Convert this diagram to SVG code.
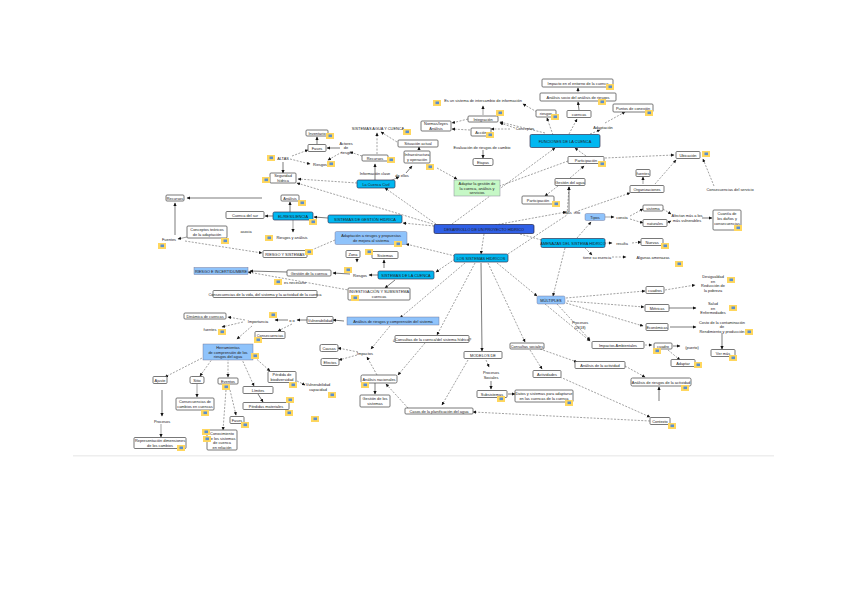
<svg xmlns="http://www.w3.org/2000/svg" xmlns:xlink="http://www.w3.org/1999/xlink" width="848" height="600" viewBox="0 0 848 600">
<style>
text{font-family:"Liberation Sans",Arial,sans-serif;font-size:3.9px;fill:#222;text-anchor:middle}
.b{fill:#fff;stroke:#555;stroke-width:.8}
.l{fill:none;stroke:none}
.c{fill:#00b7f1;stroke:#335;stroke-width:.7}
.k{fill:#2f5fe6;stroke:#224;stroke-width:.7}
.h{fill:#8fc3fb;stroke:#668;stroke-width:.4}
.g{fill:#c6f8c6;stroke:#889;stroke-width:.5}
#e path{fill:none;stroke:#444;stroke-width:.5;marker-end:url(#a)}
#e .d{stroke-dasharray:2 1.4}
#e .s{stroke-width:.7}
</style>
<defs>
<marker id="a" markerWidth="4" markerHeight="4" refX="3" refY="2" orient="auto" markerUnits="userSpaceOnUse"><path d="M0 .4L3.4 2L0 3.6z" fill="#111"/></marker>
<g id="i"><rect width="8" height="6" fill="#ffd75e"/><rect x="2.5" y="1.5" width="3.5" height="2.6" fill="#5a8fd0"/></g>
</defs>
<rect width="848" height="600" fill="#fff"/>
<rect x="73" y="455" width="701" height="1.5" fill="#eee"/>
<g id="e">
<path class="d" d="M484 234L481 254"/><path class="d" d="M452 224L555 148"/><path class="d" d="M436 225L297 183"/><path class="d" d="M436 224L385 188"/><path class="d" d="M434 226L403 223"/><path class="d" d="M520 234L545 241"/><path class="d" d="M495 225L566 212"/><path class="d" d="M575 212L630 193"/>
<path class="d" d="M508 254L567 215L569 187"/><path class="d" d="M455 256L406 244"/><path class="d" d="M455 259L436 272"/><path class="d" d="M465 263L400 318"/><path class="d" d="M475 263L437 335"/><path class="s" d="M481 263L482 351"/><path class="d" d="M488 263L525 342"/><path class="d" d="M497 263L537 296"/>
<path class="d" d="M565 248L553 296"/><path class="d" d="M577 238L591 222"/><path class="d" d="M594 243L612 243"/><path class="d" d="M632 243L641 242"/><path class="d" d="M585 248L592 255"/><path class="d" d="M612 257L626 257"/><path d="M605 217L614 217"/><path class="d" d="M630 216L643 209"/><path class="d" d="M630 219L643 223"/><path class="d" d="M663 209L671 214"/><path class="d" d="M667 223L671 221"/><path class="s" d="M702 218L712 218"/>
<path class="d" d="M553 135L547 118"/><path class="d" d="M569 134L577 119"/><path class="d" d="M590 134L600 130"/><path class="d" d="M605 123L625 112"/><path class="s" d="M579 110L578 102"/><path class="s" d="M578 92L578 88"/><path class="d" d="M537 112L523 104"/><path class="d" d="M545 133L500 122"/><path class="d" d="M515 128L500 123"/><path class="d" d="M470 130L452 129"/><path class="d" d="M510 129L491 129"/><path d="M483 115L483 106"/><path class="d" d="M468 119L452 123"/><path class="s" d="M483 150L483 158"/><path class="d" d="M586 156L575 148"/><path class="d" d="M570 178L584 166"/><path class="s" d="M569 212L569 187"/><path class="d" d="M558 186L545 196"/><path class="d" d="M568 161L497 187"/><path class="d" d="M605 158L674 155"/><path class="d" d="M437 168L457 179"/><path d="M643 184L643 177"/><path class="d" d="M655 184L676 160"/><path class="d" d="M714 186L703 159"/>
<path class="d" d="M357 183L298 179"/><path class="s" d="M375 180L375 164"/><path class="d" d="M377 154L377 133"/><path d="M390 181L399 177"/><path class="s" d="M406 173L412 166"/><path class="s" d="M419 150L419 147"/><path class="d" d="M397 142L381 132"/><path class="d" d="M362 156L350 152"/><path class="s" d="M340 148L327 148"/><path class="d" d="M342 152L328 160"/><path class="s" d="M317 144L317 137"/><path class="s" d="M283 162L283 173"/><path class="d" d="M292 156L308 150"/><path class="d" d="M290 159L310 164"/>
<path class="s" d="M290 212L290 202"/><path class="s" d="M328 218L314 217"/><path class="s" d="M273 216L265 216"/><path d="M293 220L293 232"/><path class="s" d="M262 198L187 198"/><path class="s" d="M175 235L175 203"/><path d="M187 237L178 239"/><path class="d" d="M185 241L262 253"/><path class="d" d="M335 240L307 252"/><path class="d" d="M357 258L357 262"/><path class="s" d="M384 268L384 260"/>
<path class="s" d="M378 275L369 275"/><path class="s" d="M350 274L333 273"/><path class="s" d="M287 272L250 271"/><path class="s" d="M395 280L385 288"/><path class="d" d="M354 291L248 272"/>
<path class="s" d="M344 321L333 320"/><path class="s" d="M307 320L297 320"/><path class="s" d="M288 320L275 320"/><path class="d" d="M292 324L278 331"/><path class="d" d="M245 320L228 317"/><path class="d" d="M243 322L222 327"/><path class="d" d="M252 326L237 339"/>
<path class="d" d="M390 326L371 349"/><path class="d" d="M358 352L338 348"/><path class="d" d="M357 355L339 360"/><path class="d" d="M377 375L367 357"/><path class="s" d="M375 383L375 394"/><path class="d" d="M408 408L386 384"/><path class="d" d="M425 343L398 375"/>
<path class="d" d="M208 355L165 377"/><path class="d" d="M215 355L200 376"/><path class="d" d="M228 355L228 377"/><path class="d" d="M240 355L254 386"/><path class="d" d="M252 355L270 371"/><path class="d" d="M297 381L305 385"/><path class="s" d="M162 390L162 416"/><path d="M161 424L161 437"/><path d="M197 384L197 397"/><path class="d" d="M226 390L223 430"/><path class="d" d="M230 390L236 415"/><path class="s" d="M258 394L263 402"/>
<path class="d" d="M468 360L442 405"/><path class="d" d="M486 360L489 367"/><path class="s" d="M491 381L491 389"/><path class="s" d="M508 394L515 394"/><path class="d" d="M650 421L473 412"/><path class="s" d="M659 401L659 387"/><path class="d" d="M530 350L542 369"/><path class="d" d="M540 349L577 362"/><path class="d" d="M625 366L645 377"/><path class="d" d="M560 377L650 417"/>
<path class="d" d="M566 298L645 291"/><path class="d" d="M567 301L644 307"/><path class="d" d="M566 303L643 326"/><path class="d" d="M545 304L590 341"/><path class="d" d="M557 304L590 340"/><path class="d" d="M665 290L695 285"/><path class="s" d="M668 308L696 308"/><path class="s" d="M670 327L696 327"/><path class="s" d="M722 333L722 349"/><path class="d" d="M645 345L652 345"/><path class="s" d="M673 346L680 346"/><path class="d" d="M668 350L680 360"/>
</g>
<g id="n1"><rect class="k" x="434" y="224.500" width="100" height="9" rx="1.500"/><text x="484" y="230.500">DESARROLLO DE UN PROYECTO HÍDRICO</text></g>
<g id="n2"><rect class="c" x="454" y="254" width="54" height="8" rx="1.500"/><text x="481" y="259.500">LOS SISTEMAS HÍDRICOS</text></g>
<g id="n3"><rect class="c" x="530" y="134.500" width="70" height="13" rx="1.500"/><text x="565" y="142.500">FUNCIONES DE LA CUENCA</text></g>
<g id="n4"><rect class="c" x="541" y="238.500" width="64" height="9" rx="1.500"/><text x="573" y="244.500">AMENAZAS DEL SISTEMA HÍDRICO</text></g>
<g id="n5"><rect class="c" x="357" y="180" width="38" height="8" rx="1.500"/><text x="376" y="185.500">La Cuenca Civil</text></g>
<g id="n6"><rect class="c" x="273" y="212" width="40" height="8" rx="1.500"/><text x="293" y="217.500">EL/RESILIENCIA</text></g>
<g id="n7"><rect class="c" x="328" y="215" width="74" height="8" rx="1.500"/><text x="365" y="220.500">SISTEMAS DE GESTIÓN HÍDRICA</text></g>
<g id="n8"><rect class="c" x="378" y="271" width="56" height="8" rx="1.500"/><text x="406" y="276.500">SISTEMAS DE LA CUENCA</text></g>
<g id="n9"><rect class="h" x="335" y="231.500" width="72" height="13" rx="1.500"/><text x="371" y="236.800">Adaptación a riesgos y propuestas</text><text x="371" y="242">de mejora al sistema</text></g>
<g id="n10"><rect class="h" x="194" y="267.500" width="54" height="7"/><text x="221" y="272.500">RIESGO E INCERTIDUMBRE</text></g>
<g id="n11"><rect class="h" x="347" y="317" width="92" height="8"/><text x="393" y="322.500">Análisis de riesgos y comprensión del sistema</text></g>
<g id="n12"><rect class="h" x="203" y="344" width="50" height="16"/><text x="228" y="349">Herramientas</text><text x="228" y="353.500">de comprensión de los</text><text x="228" y="358">riesgos del agua</text></g>
<g id="n13"><rect class="h" x="585" y="213.500" width="20" height="7" rx="1.500"/><text x="595" y="218.500">Tipos</text></g>
<g id="n14"><rect class="h" x="537" y="296" width="28" height="8" rx="1.500"/><text x="551" y="301.500">MÚLTIPLES</text></g>
<g id="n15"><rect class="g" x="454" y="180" width="46" height="16"/><text x="477" y="185">Adaptar la gestión de</text><text x="477" y="189.500">la cuenca, análisis y</text><text x="477" y="194">servicios</text></g>
<g id="n16"><rect class="b" x="542" y="79" width="71" height="8" rx="1"/><text x="578" y="84.500">Impacto en el entorno de la cuenca</text></g>
<g id="n17"><rect class="b" x="540" y="93" width="76" height="8" rx="1"/><text x="578" y="98.500">Análisis socio del análisis de riesgos</text></g>
<g id="n18"><rect class="b" x="613" y="104" width="40" height="8" rx="1"/><text x="633" y="109.500">Puntos de conexión</text></g>
<g id="n19"><rect class="b" x="536" y="110" width="20" height="7" rx="1"/><text x="546" y="115">riesgos</text></g>
<g id="n20"><rect class="b" x="567" y="110.500" width="24" height="7" rx="1"/><text x="579" y="115.500">cuencas</text></g>
<g id="n21"><text x="483" y="102">Es un sistema de intercambio de información</text></g>
<g id="n22"><rect class="b" x="468" y="116" width="30" height="6" rx="1"/><text x="483" y="120.500">Integración</text></g>
<g id="n23"><rect class="b" x="421" y="121" width="30" height="10" rx="1"/><text x="436" y="125.300">Normas/leyes</text><text x="436" y="129.700">Análisis</text></g>
<g id="n24"><rect class="b" x="471" y="128" width="20" height="8" rx="1"/><text x="481" y="133.500">Acción</text></g>
<g id="n25"><text x="525" y="129.500">Conceptos</text></g>
<g id="n26"><text x="603" y="128.500">Adaptación</text></g>
<g id="n27"><text x="482" y="148.500">Evaluación de riesgos de cambio</text></g>
<g id="n28"><rect class="b" x="473" y="158.500" width="20" height="7" rx="1.500"/><text x="483" y="163.500">Etapas</text></g>
<g id="n29"><rect class="b" x="568" y="156.500" width="36" height="7" rx="1"/><text x="586" y="161.500">Participación</text></g>
<g id="n30"><rect class="b" x="555" y="178.500" width="30" height="7" rx="1"/><text x="570" y="183.500">Gestión del agua</text></g>
<g id="n31"><rect class="b" x="522" y="196" width="32" height="8" rx="1"/><text x="538" y="201.500">Participación</text></g>
<g id="n32"><rect class="b" x="676" y="151.500" width="24" height="7" rx="1"/><text x="688" y="156.500">Ubicación</text></g>
<g id="n33"><rect class="b" x="636" y="169.500" width="14" height="7" rx="1"/><text x="643" y="174.500">fuentes</text></g>
<g id="n34"><rect class="b" x="630" y="185.500" width="34" height="7" rx="1"/><text x="647" y="190.500">Organizaciones</text></g>
<g id="n35"><text x="730" y="190.500">Consecuencias del servicio</text></g>
<g id="n36"><rect class="b" x="643" y="205" width="20" height="6" rx="1"/><text x="653" y="209.500">sistema</text></g>
<g id="n37"><rect class="b" x="643" y="219.500" width="24" height="7" rx="1"/><text x="655" y="224.500">naturales</text></g>
<g id="n38"><text x="687" y="216.500">Afectan más a los</text><text x="687" y="221.500">más vulnerables</text></g>
<g id="n39"><rect class="b" x="713" y="210" width="28" height="20" rx="1"/><text x="727" y="215">Cuantía de</text><text x="727" y="220">los daños y</text><text x="727" y="225">consecuencias</text></g>
<g id="n40"><text x="622" y="218.500">consta</text></g>
<g id="n41"><text x="622" y="244.500">resulta</text></g>
<g id="n42"><rect class="b" x="641" y="238.500" width="22" height="7" rx="1"/><text x="652" y="243.500">Nuevas</text></g>
<g id="n43"><text x="597" y="258.500">tiene su esencia</text></g>
<g id="n44"><rect class="l" x="626" y="253.500" width="54" height="7"/><text x="653" y="258.500">Algunas amenazas</text></g>
<g id="n45"><text x="568" y="213.500">Más</text><text x="577" y="213.500">info</text></g>
<g id="n46"><rect class="b" x="306" y="130" width="22" height="6" rx="1"/><text x="317" y="134.500">Inventario</text></g>
<g id="n47"><rect class="b" x="308" y="144.500" width="18" height="7" rx="1"/><text x="317" y="149.500">Fases</text></g>
<g id="n48"><text x="346" y="144.500">Actores</text><text x="346" y="149">de</text><text x="346" y="154">riesgo</text></g>
<g id="n49"><text x="320" y="165.500">Riesgos</text></g>
<g id="n50"><text x="283" y="159.500">ALTAS</text></g>
<g id="n51"><rect class="b" x="270" y="173" width="26" height="10" rx="1"/><text x="283" y="177.300">Seguridad</text><text x="283" y="181.700">hídrica</text></g>
<g id="n52"><rect class="b" x="362" y="155" width="26" height="6" rx="1"/><text x="375" y="159.500">Recursos</text></g>
<g id="n53"><rect class="l" x="352" y="124.500" width="52" height="7"/><text x="378" y="129.500">SISTEMAS AGUA Y CUENCA</text></g>
<g id="n54"><text x="375" y="174.500">Información clave</text></g>
<g id="n55"><text x="402" y="176.500">de ellos</text></g>
<g id="n56"><rect class="b" x="404" y="151" width="26" height="12" rx="1"/><text x="417" y="156">Infraestructura</text><text x="417" y="160.500">y operación</text></g>
<g id="n57"><rect class="b" x="398" y="140" width="40" height="7" rx="1"/><text x="418" y="144.500">Situación actual</text></g>
<g id="n58"><rect class="b" x="166" y="195" width="18" height="6" rx="1"/><text x="175" y="199.500">Recursos</text></g>
<g id="n59"><rect class="b" x="281" y="195" width="18" height="6" rx="1"/><text x="290" y="199.500">Análisis</text></g>
<g id="n60"><rect class="b" x="226" y="211.500" width="38" height="7" rx="1"/><text x="245" y="216.500">Cuenca del sur</text></g>
<g id="n61"><text x="292" y="238.500">Riesgos y análisis</text></g>
<g id="n62"><rect class="b" x="187" y="226" width="40" height="12" rx="1"/><text x="207" y="231">Conceptos teóricos</text><text x="207" y="235.500">de la adaptación</text></g>
<g id="n63"><text x="246" y="232.500">asocia</text></g>
<g id="n64"><text x="169" y="240.500">Fuentes</text></g>
<g id="n65"><rect class="b" x="263" y="250.500" width="44" height="7" rx="1"/><text x="285" y="255.500">RIESGO Y SISTEMAS</text></g>
<g id="n66"><rect class="b" x="346" y="250.500" width="14" height="7" rx="1"/><text x="353" y="255.500">Zona</text></g>
<g id="n67"><rect class="b" x="372" y="251.500" width="26" height="7" rx="1"/><text x="385" y="256.500">Sistemas</text></g>
<g id="n68"><rect class="b" x="287" y="270" width="44" height="6" rx="1"/><text x="309" y="274.500">Gestión de la cuenca</text></g>
<g id="n69"><text x="360" y="276.500">Riesgos</text></g>
<g id="n70"><text x="295" y="283.500">es necesario</text></g>
<g id="n71"><rect class="b" x="348" y="288" width="62" height="12" rx="1"/><text x="379" y="293">INVESTIGACIÓN Y SUBSISTEMA</text><text x="379" y="297.500">cuencas</text></g>
<g id="n72"><rect class="b" x="213" y="290.500" width="104" height="7" rx="1"/><text x="265" y="295.500">Consecuencias de la vida, del sistema y la actividad de la cuenca</text></g>
<g id="n73"><rect class="b" x="307" y="316.500" width="26" height="7" rx="1"/><text x="320" y="321.500">Vulnerabilidad</text></g>
<g id="n74"><text x="292" y="321.500">o o</text></g>
<g id="n75"><text x="258" y="322.500">Importancia</text></g>
<g id="n76"><rect class="b" x="184" y="313" width="42" height="6" rx="1"/><text x="205" y="317.500">Dinámica de cuencas</text></g>
<g id="n77"><rect class="l" x="200" y="325.500" width="20" height="7"/><text x="210" y="330.500">fuentes</text></g>
<g id="n78"><rect class="b" x="255" y="331.500" width="30" height="7" rx="1"/><text x="270" y="336.500">Consecuencias</text></g>
<g id="n79"><rect class="b" x="153" y="376.500" width="14" height="7" rx="1"/><text x="160" y="381.500">Ajuste</text></g>
<g id="n80"><rect class="b" x="190" y="376.500" width="14" height="7" rx="1.500"/><text x="197" y="381.500">Sitio</text></g>
<g id="n81"><rect class="b" x="218" y="378" width="20" height="6" rx="1"/><text x="228" y="382.500">Eventos</text></g>
<g id="n82"><rect class="b" x="243" y="386.500" width="30" height="7" rx="1"/><text x="258" y="391.500">Límites</text></g>
<g id="n83"><rect class="b" x="268" y="371.500" width="28" height="11" rx="1"/><text x="282" y="376">Pérdida de</text><text x="282" y="380.500">biodiversidad</text></g>
<g id="n84"><text x="318" y="386">Vulnerabilidad</text><text x="318" y="391">capacidad</text></g>
<g id="n85"><rect class="b" x="176" y="398" width="38" height="12" rx="1"/><text x="195" y="403">Consecuencias de</text><text x="195" y="407.500">cambios en cuencas</text></g>
<g id="n86"><rect class="b" x="243" y="402.500" width="46" height="7" rx="1"/><text x="266" y="407.500">Pérdidas materiales</text></g>
<g id="n87"><rect class="l" x="149" y="418" width="26" height="6"/><text x="162" y="422.500">Procesos</text></g>
<g id="n88"><rect class="b" x="230" y="416.500" width="14" height="7" rx="1"/><text x="237" y="421.500">Fases</text></g>
<g id="n89"><rect class="b" x="134" y="437.500" width="52" height="11" rx="1"/><text x="160" y="442">Representación dimensiones</text><text x="160" y="446.500">de los cambios</text></g>
<g id="n90"><rect class="b" x="207" y="430" width="30" height="20" rx="1"/><text x="222" y="435">Conocimiento</text><text x="222" y="439.500">de los sistemas</text><text x="222" y="444">de cuenca</text><text x="222" y="448.500">en relación</text></g>
<g id="n91"><rect class="b" x="320" y="344.500" width="18" height="7" rx="1.500"/><text x="329" y="349.500">Causas</text></g>
<g id="n92"><rect class="b" x="321" y="358.500" width="18" height="7" rx="1.500"/><text x="330" y="363.500">Efectos</text></g>
<g id="n93"><text x="365" y="354.500">Impactos</text></g>
<g id="n94"><rect class="b" x="361" y="375" width="36" height="8" rx="1.500"/><text x="379" y="380.500">Análisis nacionales</text></g>
<g id="n95"><rect class="b" x="360" y="395" width="30" height="12" rx="1"/><text x="375" y="400">Gestión de los</text><text x="375" y="404.500">sistemas</text></g>
<g id="n97"><rect class="b" x="395" y="335.500" width="74" height="7" rx="1"/><text x="432" y="340.500">¿Consultas de la cuenca/del sistema hídrico?</text></g>
<g id="n98"><rect class="b" x="464" y="351.500" width="38" height="7" rx="1"/><text x="483" y="356.500">MODELOS DE</text></g>
<g id="n99"><rect class="l" x="480" y="370" width="22" height="10"/><text x="491" y="374.300">Procesos</text><text x="491" y="378.700">Sociales</text></g>
<g id="n100"><rect class="b" x="477" y="390.500" width="30" height="7" rx="1"/><text x="492" y="395.500">Subsistemas</text></g>
<g id="n101"><rect class="b" x="515" y="390" width="58" height="12" rx="1"/><text x="544" y="395">Datos y sistemas para adaptarse</text><text x="544" y="399.500">en las cuencas de la cuenca</text></g>
<g id="n102"><rect class="b" x="405" y="408" width="68" height="6" rx="1"/><text x="439" y="412.500">Casos de la planificación del agua</text></g>
<g id="n103"><rect class="b" x="510" y="343" width="34" height="6" rx="1"/><text x="527" y="347.500">Consultas sociales</text></g>
<g id="n104"><rect class="b" x="533" y="370.500" width="28" height="7" rx="1"/><text x="547" y="375.500">Actividades</text></g>
<g id="n105"><rect class="b" x="575" y="361.500" width="50" height="7" rx="1"/><text x="600" y="366.500">Análisis de la actividad</text></g>
<g id="n106"><rect class="b" x="631" y="378" width="60" height="8" rx="1.500"/><text x="661" y="383.500">Análisis de riesgos de la actividad</text></g>
<g id="n107"><rect class="b" x="650" y="417.500" width="20" height="7" rx="1"/><text x="660" y="422.500">Contexto</text></g>
<g id="n108"><rect class="b" x="646" y="286.500" width="18" height="7" rx="1"/><text x="655" y="291.500">cuadros</text></g>
<g id="n109"><rect class="b" x="645" y="304.500" width="24" height="7" rx="1"/><text x="657" y="309.500">Métricas</text></g>
<g id="n110"><rect class="b" x="646" y="323.500" width="22" height="7" rx="1"/><text x="657" y="328.500">Económicas</text></g>
<g id="n111"><rect class="l" x="697" y="273" width="32" height="20"/><text x="713" y="278">Desigualdad</text><text x="713" y="282.500">en</text><text x="713" y="287">Reducción de</text><text x="713" y="291.500">la pobreza</text></g>
<g id="n112"><rect class="l" x="698" y="300.500" width="30" height="13"/><text x="713" y="305">Salud</text><text x="713" y="309.500">en</text><text x="713" y="314">Enfermedades</text></g>
<g id="n113"><rect class="l" x="697" y="319" width="50" height="14"/><text x="722" y="323.500">Costo de la contaminación</text><text x="722" y="328">de</text><text x="722" y="332.500">Rendimiento y producción</text></g>
<g id="n114"><rect class="b" x="711" y="349.500" width="24" height="7" rx="1"/><text x="723" y="354.500">Ver más</text></g>
<g id="n115"><text x="580" y="324">Procesos</text><text x="580" y="328.500">(2018)</text></g>
<g id="n116"><rect class="b" x="592" y="341.500" width="52" height="7" rx="1"/><text x="618" y="346.500">Impactos Ambientales</text></g>
<g id="n117"><rect class="b" x="654" y="343" width="18" height="6" rx="1"/><text x="663" y="347.500">cuadro</text></g>
<g id="n118"><text x="692" y="348.500">(puerto)</text></g>
<g id="n119"><rect class="b" x="671" y="359.500" width="24" height="7" rx="1"/><text x="683" y="364.500">Adaptar</text></g>
<g id="icons"><use href="#i" x="326" y="133"/><use href="#i" x="327" y="161"/><use href="#i" x="267" y="155"/><use href="#i" x="262" y="177"/><use href="#i" x="387" y="157"/><use href="#i" x="403" y="129"/><use href="#i" x="426" y="164"/><use href="#i" x="298" y="200"/><use href="#i" x="309" y="219"/><use href="#i" x="265" y="235"/><use href="#i" x="158" y="243"/><use href="#i" x="221" y="238"/><use href="#i" x="305" y="249"/><use href="#i" x="394" y="241"/><use href="#i" x="365" y="249"/><use href="#i" x="344" y="267"/><use href="#i" x="606" y="84"/><use href="#i" x="598" y="99"/><use href="#i" x="645" y="110"/><use href="#i" x="551" y="114"/><use href="#i" x="433" y="100"/><use href="#i" x="496" y="110"/><use href="#i" x="486" y="132"/><use href="#i" x="598" y="161"/><use href="#i" x="702" y="151"/><use href="#i" x="552" y="201"/><use href="#i" x="734" y="225"/><use href="#i" x="661" y="243"/><use href="#i" x="675" y="261"/><use href="#i" x="269" y="312"/><use href="#i" x="218" y="329"/><use href="#i" x="274" y="279"/><use href="#i" x="351" y="295"/><use href="#i" x="254" y="337"/><use href="#i" x="251" y="353"/><use href="#i" x="289" y="382"/><use href="#i" x="222" y="384"/><use href="#i" x="328" y="392"/><use href="#i" x="201" y="410"/><use href="#i" x="286" y="397"/><use href="#i" x="285" y="410"/><use href="#i" x="311" y="416"/><use href="#i" x="241" y="422"/><use href="#i" x="177" y="445"/><use href="#i" x="202" y="429"/><use href="#i" x="203" y="436"/><use href="#i" x="361" y="382"/><use href="#i" x="727" y="277"/><use href="#i" x="729" y="305"/><use href="#i" x="745" y="329"/><use href="#i" x="729" y="355"/><use href="#i" x="694" y="362"/><use href="#i" x="653" y="348"/><use href="#i" x="681" y="385"/><use href="#i" x="497" y="396"/><use href="#i" x="565" y="400"/><use href="#i" x="668" y="423"/></g>
</svg>
